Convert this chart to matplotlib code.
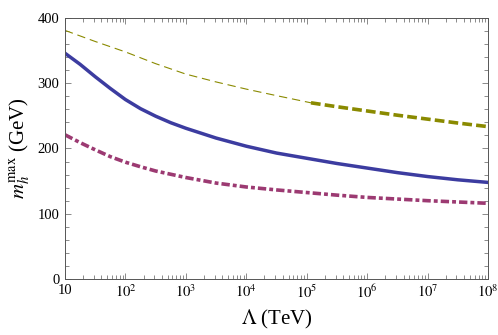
import numpy as np
import matplotlib
matplotlib.use("Agg")
import matplotlib.pyplot as plt
from matplotlib.ticker import FuncFormatter, FixedLocator, MultipleLocator

plt.rcParams['font.family'] = ['Liberation Serif', 'DejaVu Serif']
plt.rcParams['mathtext.fontset'] = 'stix'
plt.rcParams['lines.scale_dashes'] = False

# log10(Lambda / TeV) et m_h^max (GeV)
logl_blue = [1, 1.25, 1.5, 1.75, 2, 2.25, 2.5, 2.75, 3, 3.5, 4, 4.5, 5, 5.5, 6, 6.5, 7, 7.5, 8]
m_blue    = [346, 329, 310, 292, 275, 261, 249.5, 239.5, 231, 216, 203.5, 193, 185, 177, 170, 163, 157, 152, 148]

logl_purple = [1, 1.25, 1.5, 1.75, 2, 2.25, 2.5, 2.75, 3, 3.5, 4, 4.5, 5, 5.5, 6, 6.5, 7, 7.5, 8]
m_purple    = [221, 209, 198, 187.5, 179, 172, 165.5, 160.5, 155.5, 147, 141, 136.5, 132.5, 128.5, 125, 122.5, 120, 118, 116]

logl_olive = [1, 1.5, 2, 2.5, 3, 3.5, 4, 4.5, 5.07, 5.5, 6, 6.5, 7, 7.5, 8]
m_olive    = [381, 364, 348, 330, 314, 302, 291, 281, 270, 264, 257.5, 251, 245, 239, 233.5]
logl_split = 5.07   # passage trait fin -> trait épais

x_decades = [1, 2, 3, 4, 5, 6, 7, 8]

c_blue = '#3c3ca0'
c_purple = '#9c3a72'
c_olive = '#8a8a00'

fig = plt.figure(figsize=(4.98, 3.35), dpi=100)
ax = fig.add_axes([0.1305, 0.1672, 0.8495, 0.7791])

lo = 10.0 ** np.array(logl_olive)
mo = np.array(m_olive)
thin = np.array(logl_olive) <= logl_split
thick = np.array(logl_olive) >= logl_split
ax.plot(lo[thin], mo[thin], color=c_olive, lw=0.8, dashes=(6, 3.5))
ax.plot(lo[thick], mo[thick], color=c_olive, lw=2.6, dashes=(7, 3))
ax.plot(10.0 ** np.array(logl_blue), m_blue, color=c_blue, lw=2.5)
ax.plot(10.0 ** np.array(logl_purple), m_purple, color=c_purple, lw=2.6,
        dashes=(6, 2.2, 2.8, 2.2))

ax.set_xscale('log')
ax.set_xlim(10, 1e8)
ax.set_ylim(0, 400)

# graduations: décades uniquement dans la fenêtre
major = [10.0 ** k for k in x_decades]
minor = [s * 10.0 ** k for k in x_decades[:-1] for s in range(2, 10)]
ax.xaxis.set_major_locator(FixedLocator(major))
ax.xaxis.set_minor_locator(FixedLocator(minor))
ax.xaxis.set_major_formatter(FuncFormatter(
    lambda v, p: '10' if abs(v - 10) < 1e-6 else r'$10^{%d}$' % round(np.log10(v))))
ax.xaxis.set_minor_formatter(FuncFormatter(lambda v, p: ''))
ax.yaxis.set_major_locator(MultipleLocator(100))
ax.yaxis.set_minor_locator(MultipleLocator(20))

for s in ax.spines.values():
    s.set_color('#555555')
    s.set_linewidth(0.7)
ax.tick_params(which='both', direction='in', top=True, right=True,
               color='#777777', width=0.6, labelsize=10.5)
ax.tick_params(which='major', length=4)
ax.tick_params(which='minor', length=3)
ax.tick_params(axis='x', which='major', pad=3.5)
ax.tick_params(axis='y', which='major', pad=4)

ax.set_xlabel(r'$\Lambda$ (TeV)', fontsize=15, labelpad=5)
ax.set_ylabel(r'$m_h^{\rm max}$ (GeV)', fontsize=15, labelpad=4)

fig.savefig('out.png', dpi=100)
